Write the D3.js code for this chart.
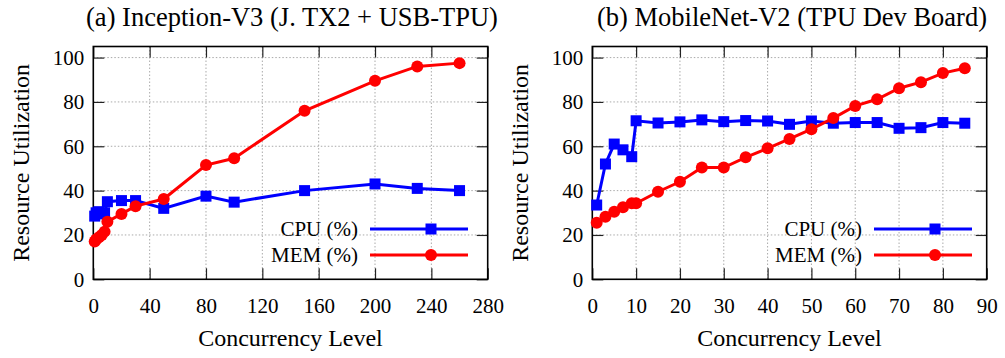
<!DOCTYPE html>
<html>
<head>
<meta charset="utf-8">
<script src="https://cdn.jsdelivr.net/npm/d3@7"></script>
<style>
  body { margin: 0; background: #fff; }
</style>
</head>
<body>
<svg id="chart" width="1005" height="358"></svg>
<script>
// panel (a) Inception-V3
const xA = [1, 2, 4, 6, 8, 10, 20, 30, 50, 80, 100, 150, 200, 230, 260];
const cpuA = [28.5, 30, 30.5, 29.5, 30, 35, 35.5, 35.5, 32, 37.5, 34.8, 40, 43, 41, 40];
const memA = [17, 18, 19, 20, 21.5, 26, 29.5, 33, 36.2, 51.5, 54.6, 76, 89.5, 96, 97.5];
const ticksXA = [0, 40, 80, 120, 160, 200, 240, 280];

// panel (b) MobileNet-V2
const xB = [1, 3, 5, 7, 9, 10, 15, 20, 25, 30, 35, 40, 45, 50, 55, 60, 65, 70, 75, 80, 85];
const cpuB = [33.5, 52, 61, 58.4, 55.3, 71.5, 70.5, 71, 71.9, 71.1, 71.6, 71.4, 69.9, 71.4, 70.4, 70.7, 70.7, 68.1, 68.4, 70.7, 70.4];
const memB = [25.5, 28.2, 30.5, 32.5, 34.3, 34.3, 39.5, 44, 50.4, 50.4, 55, 59.1, 63.3, 67.7, 72.7, 78.2, 81.2, 86.2, 88.9, 93, 95.2];
const ticksXB = [0, 10, 20, 30, 40, 50, 60, 70, 80, 90];

const ticksY = [0, 20, 40, 60, 80, 100];
const seriesNames = ['CPU (%)', 'MEM (%)'];
const titles = ['(a) Inception-V3 (J. TX2 + USB-TPU)', '(b) MobileNet-V2 (TPU Dev Board)'];

const FONT = 'Liberation Serif';
const svg = d3.select('#chart');

function drawPanel(opts) {
	const x = d3.scaleLinear().domain(opts.xDomain).range([opts.left, opts.right]);
	const y = d3.scaleLinear().domain([0, 105]).range([279.3, 46.5]);
	const g = svg.append('g').attr('font-family', FONT);
	const tickLen = 11;

	// grid
	g.append('g').selectAll('line').data(opts.xticks.slice(1, -1)).enter().append('line')
		.attr('x1', d => x(d)).attr('x2', d => x(d)).attr('y1', y(105)).attr('y2', y(0))
		.attr('stroke', '#aaa').attr('stroke-width', 1).attr('stroke-dasharray', '1.5,2');
	g.append('g').selectAll('line').data(ticksY.slice(1)).enter().append('line')
		.attr('x1', opts.left).attr('x2', opts.right).attr('y1', d => y(d)).attr('y2', d => y(d))
		.attr('stroke', '#aaa').attr('stroke-width', 1).attr('stroke-dasharray', '1.5,2');

	// inward ticks on all sides
	const axB = d3.axisBottom(x).tickValues(opts.xticks).tickSizeInner(-tickLen).tickSizeOuter(0).tickPadding(19);
	const axT = d3.axisTop(x).tickValues(opts.xticks).tickSizeInner(-tickLen).tickSizeOuter(0).tickFormat('');
	const axL = d3.axisLeft(y).tickValues(ticksY).tickSizeInner(-tickLen).tickSizeOuter(0).tickPadding(9);
	const axR = d3.axisRight(y).tickValues(ticksY).tickSizeInner(-tickLen).tickSizeOuter(0).tickFormat('');
	[[axB, `translate(0,${y(0)})`], [axT, `translate(0,${y(105)})`], [axL, `translate(${opts.left},0)`], [axR, `translate(${opts.right},0)`]]
		.forEach(([ax, tr]) => {
			const a = g.append('g').attr('transform', tr).call(ax);
			a.attr('font-family', FONT).attr('font-size', 21);
			a.select('.domain').remove();
			a.selectAll('.tick line').attr('stroke', '#222').attr('stroke-width', 1.2);
		});

	// frame
	g.append('rect').attr('x', opts.left).attr('y', y(105)).attr('width', opts.right - opts.left).attr('height', y(0) - y(105))
		.attr('fill', 'none').attr('stroke', '#000').attr('stroke-width', 1.6);

	const line = d3.line().x(d => x(d[0])).y(d => y(d[1]));
	const series = [
		{ vals: opts.cpu, color: '#0000ff', shape: 'square' },
		{ vals: opts.mem, color: '#ff0000', shape: 'circle' }
	];
	series.forEach((s, i) => {
		const pts = opts.xs.map((v, j) => [v, s.vals[j]]);
		g.append('path').attr('d', line(pts)).attr('fill', 'none').attr('stroke', s.color).attr('stroke-width', 3);
		drawMarks(g, pts.map(p => [x(p[0]), y(p[1])]), s);
		// legend
		const ly = 229 + i * 26;
		g.append('text').attr('x', opts.legX).attr('y', ly).attr('dy', '0.35em').attr('text-anchor', 'end')
			.attr('font-size', 21).text(seriesNames[i]);
		g.append('line').attr('x1', opts.legX + 12).attr('x2', opts.legX + 110).attr('y1', ly).attr('y2', ly)
			.attr('stroke', s.color).attr('stroke-width', 3);
		drawMarks(g, [[opts.legX + 73, ly]], s);
	});

	g.append('text').attr('x', opts.titleX).attr('y', 26).attr('text-anchor', 'middle')
		.attr('font-size', 26.5).text(opts.title);
	g.append('text').attr('x', (opts.left + opts.right) / 2).attr('y', 346).attr('text-anchor', 'middle')
		.attr('font-size', 24).text('Concurrency Level');
	g.append('text').attr('transform', `translate(${opts.left - 64},${(y(0) + y(105)) / 2}) rotate(-90)`)
		.attr('text-anchor', 'middle').attr('font-size', 24).text('Resource Utilization');
}

function drawMarks(g, pts, s) {
	if (s.shape === 'square') {
		g.append('g').selectAll('rect').data(pts).enter().append('rect')
			.attr('x', d => d[0] - 5.5).attr('y', d => d[1] - 5.5).attr('width', 11).attr('height', 11)
			.attr('fill', s.color);
	} else {
		g.append('g').selectAll('circle').data(pts).enter().append('circle')
			.attr('cx', d => d[0]).attr('cy', d => d[1]).attr('r', 6).attr('fill', s.color);
	}
}

drawPanel({ left: 93.3, right: 487.7, xDomain: [0, 280], xticks: ticksXA, xs: xA, cpu: cpuA, mem: memA, title: titles[0], titleX: 292, legX: 358 });
drawPanel({ left: 592.3, right: 986.7, xDomain: [0, 90], xticks: ticksXB, xs: xB, cpu: cpuB, mem: memB, title: titles[1], titleX: 792, legX: 862 });
</script>
</body>
</html>
